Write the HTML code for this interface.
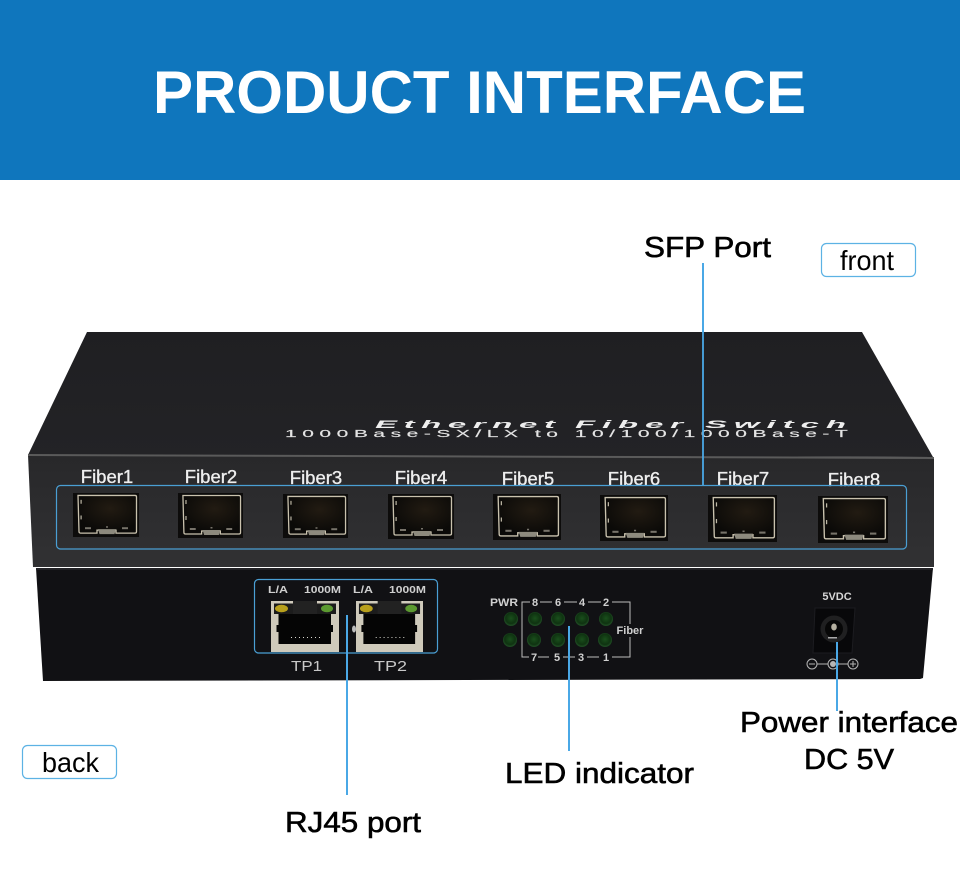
<!DOCTYPE html>
<html><head><meta charset="utf-8"><style>
html,body{margin:0;padding:0;background:#fff}
svg{display:block}
text{font-family:"Liberation Sans",sans-serif}
</style></head><body>
<svg width="960" height="877" viewBox="0 0 960 877" xmlns="http://www.w3.org/2000/svg">
<defs>
<linearGradient id="top" x1="0" y1="0" x2="0" y2="1"><stop offset="0" stop-color="#1f1f22"/><stop offset="1" stop-color="#232326"/></linearGradient>
<linearGradient id="front" x1="0" y1="0" x2="0" y2="1"><stop offset="0" stop-color="#28282a"/><stop offset="1" stop-color="#313133"/></linearGradient>
<radialGradient id="cage" cx=".55" cy=".35" r=".6"><stop offset="0" stop-color="#221b12"/><stop offset="1" stop-color="#0b0a08"/></radialGradient>
<radialGradient id="led" cx=".5" cy=".45" r=".5"><stop offset="0" stop-color="#1a4f1c"/><stop offset=".75" stop-color="#0f3311"/><stop offset="1" stop-color="#1e4a22"/></radialGradient>
<symbol id="sfp" viewBox="0 0 66 45" preserveAspectRatio="none">
<rect x="0" y="0" width="66" height="45" fill="#0d0c0b"/>
<path d="M5 2.500H62Q63.500 2.500 63.500 4V39.500Q63.500 41 62 41H43V38H24V41H7.500Q6 41 6 39.500Z" fill="url(#cage)" stroke="#c9c2ae" stroke-width="1.300"/>
<path d="M25 37H43L41.500 42H26.500Z" fill="#8d8a7e"/>
<rect x="12" y="35" width="6" height="2" fill="#77736a"/>
<rect x="49" y="35" width="6" height="2" fill="#77736a"/>
<rect x="33" y="34" width="2" height="1.500" fill="#77736a"/>
<rect x="7.500" y="7" width="1.200" height="4" fill="#bdb7a5"/>
<rect x="7.500" y="23" width="1.200" height="4" fill="#bdb7a5"/>
</symbol>
<symbol id="rj" viewBox="0 0 68 51" preserveAspectRatio="none">
<rect width="68" height="51" fill="#cfcabb"/>
<rect x="3" y="2" width="62" height="11" fill="#1c1c1c"/>
<rect x="1" y="1" width="22" height="1.500" fill="#cfcabb"/>
<rect x="45" y="1" width="22" height="1.500" fill="#cfcabb"/>
<path d="M7.500 13H60V24H62V31H60V43H7.500V31H5.500V24H7.500Z" fill="#050505"/>
<rect x="22" y="0" width="24" height="13" fill="#222"/>
<ellipse cx="10.500" cy="7.500" rx="6.500" ry="3.800" fill="#b8a01c"/>
<ellipse cx="56" cy="7.500" rx="6" ry="3.800" fill="#5c9a30"/>
<g fill="#d8d8d0"><rect x="20" y="36" width="1" height="1"/><rect x="24" y="36" width="1" height="1"/><rect x="28" y="36" width="1" height="1"/><rect x="32" y="36" width="1" height="1"/><rect x="36" y="36" width="1" height="1"/><rect x="40" y="36" width="1" height="1"/><rect x="44" y="36" width="1" height="1"/><rect x="48" y="36" width="1" height="1"/></g>
</symbol>
</defs>

<rect width="960" height="180" fill="#0f76bd"/>
<text x="153" y="113" font-size="60" font-weight="bold" fill="#fff" textLength="653" lengthAdjust="spacing">PRODUCT INTERFACE</text>

<line x1="703" y1="263" x2="703" y2="486" stroke="#4aa8e6" stroke-width="2"/>

<!-- switch upper body -->
<polygon points="87,332 862,332 933,457 28,455" fill="url(#top)"/>
<polygon points="28,455 934,458 934,567 33,567" fill="url(#front)"/>
<line x1="28" y1="455" x2="934" y2="458" stroke="#5a5a5a" stroke-width="2"/>
<g font-weight="bold" font-style="italic" fill="#eee" font-size="11">
<text transform="translate(375,428) scale(3,1)" textLength="60" lengthAdjust="spacing">Ethernet</text>
<text transform="translate(575,428) scale(3,1)" textLength="36" lengthAdjust="spacing">Fiber</text>
<text transform="translate(705,428) scale(3,1)" textLength="47" lengthAdjust="spacing">Switch</text>
</g>
<text transform="translate(285,437) scale(2.1,1)" font-size="10" fill="#e4e4e4" stroke="#e4e4e4" stroke-width=".15" textLength="268" lengthAdjust="spacing">1000Base-SX/LX to 10/100/1000Base-T</text>
<line x1="703" y1="332" x2="703" y2="486" stroke="#4aa8e6" stroke-width="1.800"/>

<!-- Fiber ports -->
<g font-size="18.500" fill="#eee" text-anchor="middle" stroke="#eee" stroke-width=".35">
<text x="107" y="483">Fiber1</text>
<text x="211" y="483">Fiber2</text>
<text x="316" y="484">Fiber3</text>
<text x="421" y="484">Fiber4</text>
<text x="528" y="485">Fiber5</text>
<text x="634" y="485">Fiber6</text>
<text x="743" y="485">Fiber7</text>
<text x="854" y="486">Fiber8</text>
</g>
<use href="#sfp" x="73" y="493" width="66" height="44"/>
<use href="#sfp" x="178" y="493" width="65" height="45"/>
<use href="#sfp" x="283" y="494" width="65" height="44"/>
<use href="#sfp" x="388" y="494" width="66" height="45"/>
<use href="#sfp" x="493" y="494" width="68" height="46"/>
<use href="#sfp" x="600" y="495" width="68" height="46"/>
<use href="#sfp" x="708" y="495" width="69" height="47"/>
<use href="#sfp" x="818" y="496" width="70" height="47"/>
<rect x="56.500" y="485.500" width="850" height="63.500" rx="4" fill="none" stroke="#4a9fd4" stroke-width="1.200"/>

<!-- lower body -->
<polygon points="36,568 933,568 923,678 920,679 43,681" fill="#111114"/>
<line x1="36" y1="569" x2="933" y2="569" stroke="#222226" stroke-width="2"/>

<!-- RJ45 -->
<use href="#rj" x="271" y="601" width="68" height="51"/>
<use href="#rj" x="356" y="601" width="67" height="51"/>
<ellipse cx="354" cy="629" rx="2" ry="3.500" fill="#bbb"/>
<g font-size="10.500" font-weight="bold" fill="#cfcfcf">
<text x="268" y="593" textLength="20" lengthAdjust="spacingAndGlyphs">L/A</text>
<text x="304" y="593" textLength="37" lengthAdjust="spacingAndGlyphs">1000M</text>
<text x="353" y="593" textLength="20" lengthAdjust="spacingAndGlyphs">L/A</text>
<text x="389" y="593" textLength="37" lengthAdjust="spacingAndGlyphs">1000M</text>
</g>
<g font-size="15" fill="#c8c8c8">
<text x="291" y="671" textLength="31" lengthAdjust="spacingAndGlyphs">TP1</text>
<text x="374" y="671" textLength="33" lengthAdjust="spacingAndGlyphs">TP2</text>
</g>
<rect x="254.500" y="579.500" width="183" height="73.500" rx="4" fill="none" stroke="#4a9fd4" stroke-width="1.200"/>
<line x1="347" y1="615" x2="347" y2="795" stroke="#4aa8e6" stroke-width="2"/>

<!-- LEDs -->
<g fill="url(#led)">
<circle cx="511" cy="619" r="7"/><circle cx="535" cy="619" r="7"/><circle cx="558" cy="619" r="7"/><circle cx="582" cy="619" r="7"/><circle cx="606" cy="619" r="7"/>
<circle cx="510" cy="640" r="7"/><circle cx="534" cy="640" r="7"/><circle cx="558" cy="640" r="7"/><circle cx="582" cy="640" r="7"/><circle cx="605" cy="640" r="7"/>
</g>
<g fill="none" stroke="#bdbdbd" stroke-width="1">
<path d="M530 602H522V657H529"/>
<path d="M540 602H552M564 602H577M588 602H601M612 602H630V624M630 637V657H612"/>
<path d="M538 657H549M563 657H575M587 657H599"/>
</g>
<g font-size="11" font-weight="bold" fill="#d0d0d0" text-anchor="middle">
<text x="504" y="606" textLength="28" lengthAdjust="spacingAndGlyphs">PWR</text>
<text x="535" y="606">8</text><text x="558" y="606">6</text><text x="582" y="606">4</text><text x="606" y="606">2</text>
<text x="534" y="661">7</text><text x="557" y="661">5</text><text x="581" y="661">3</text><text x="606" y="661">1</text>
<text x="630" y="634">Fiber</text>
</g>
<line x1="569" y1="626" x2="569" y2="751" stroke="#4aa8e6" stroke-width="2"/>

<!-- Power -->
<text x="837" y="600" font-size="11" font-weight="bold" fill="#d6d6d6" text-anchor="middle">5VDC</text>
<path d="M815 608H855L852 653H813Z" fill="#08080a" stroke="#1c1c20"/>
<circle cx="834" cy="629" r="13.500" fill="#202021"/>
<circle cx="834" cy="629" r="9" fill="#070707"/>
<ellipse cx="834" cy="627" rx="2.800" ry="3.500" fill="#b5b0a0"/>
<rect x="828" y="637" width="9" height="1.500" fill="#aaa"/>
<g fill="none" stroke="#b5b5b5" stroke-width="1">
<circle cx="812" cy="664" r="5"/><circle cx="833" cy="664" r="5"/><circle cx="853" cy="664" r="5"/>
<path d="M817 664H828M838 664H848M809 664H815M850 664H856M853 661V667"/>
</g>
<circle cx="833" cy="664" r="3" fill="#b5b5b5"/>
<line x1="837" y1="642" x2="837" y2="711" stroke="#4aa8e6" stroke-width="2"/>

<!-- callouts -->
<g fill="#000" stroke="#000" stroke-width=".6" font-size="29">
<text x="644" y="257" textLength="127" lengthAdjust="spacingAndGlyphs">SFP Port</text>
<text x="285" y="832" textLength="136" lengthAdjust="spacingAndGlyphs">RJ45 port</text>
<text x="505" y="783" textLength="189" lengthAdjust="spacingAndGlyphs">LED indicator</text>
<text x="740" y="732" textLength="218" lengthAdjust="spacingAndGlyphs">Power interface</text>
<text x="804" y="769" textLength="90" lengthAdjust="spacingAndGlyphs">DC 5V</text>
</g>
<rect x="821.500" y="243.500" width="94" height="33" rx="5" fill="#fff" stroke="#5cb2e4" stroke-width="1.200"/>
<text x="840" y="270" font-size="28" fill="#000" textLength="54" lengthAdjust="spacingAndGlyphs">front</text>
<rect x="22.500" y="745.500" width="94" height="33" rx="5" fill="#fff" stroke="#5cb2e4" stroke-width="1.200"/>
<text x="42" y="772" font-size="28" fill="#000" textLength="57" lengthAdjust="spacingAndGlyphs">back</text>
</svg>
</body></html>
